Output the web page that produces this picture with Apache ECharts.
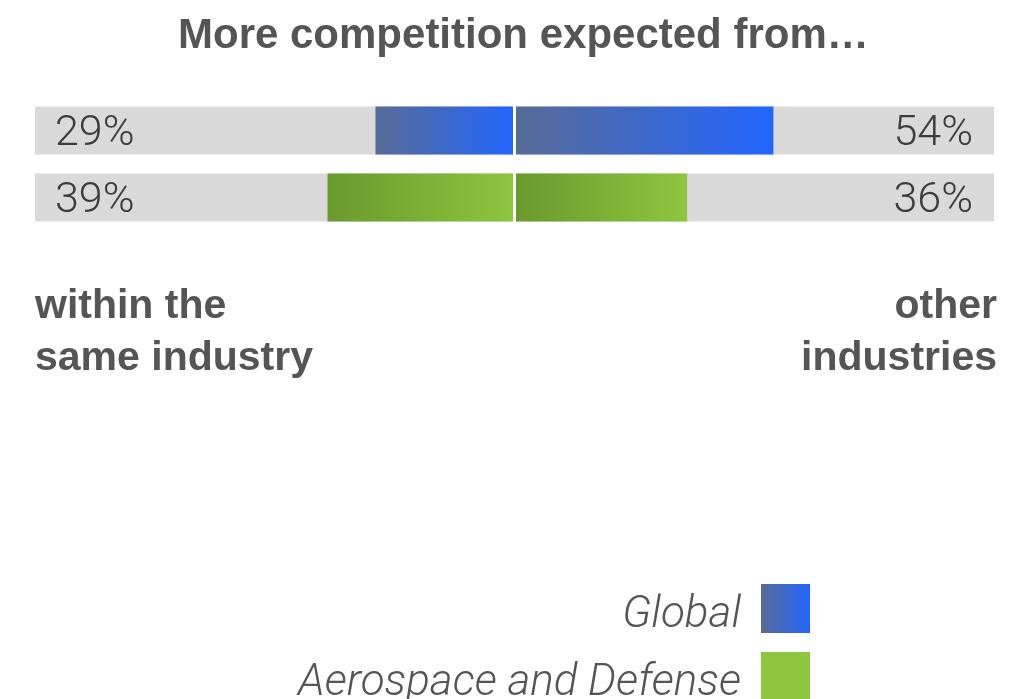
<!DOCTYPE html>
<html>
<head>
<meta charset="utf-8">
<script src="https://cdn.jsdelivr.net/npm/echarts@6/dist/echarts.min.js"></script>
<style>
  html, body { margin: 0; padding: 0; background: #fff; }
  #chart { width: 1034px; height: 699px; }
</style>
</head>
<body>
<div id="chart"></div>
<script>
// data
const rows = ["Global", "Aerospace and Defense"];
const sameIndustry = [29, 39];   // left side, %
const otherIndustries = [54, 36]; // right side, %
const fullScale = [100, 100];
const leftCaption = ["within the", "same industry"];
const rightCaption = ["other", "industries"];

const chart = echarts.init(document.getElementById("chart"));

const blueGrad = new echarts.graphic.LinearGradient(0, 0, 1, 0, [
  { offset: 0, color: "#586b95" },
  { offset: 1, color: "#2266ff" },
]);
const greenGrad = new echarts.graphic.LinearGradient(0, 0, 1, 0, [
  { offset: 0, color: "#6a992d" },
  { offset: 1, color: "#8dc63f" },
]);
const rowColors = [blueGrad, greenGrad];
const swatchColors = [blueGrad, "#8dc63f"];

const boldFont = "'Liberation Sans', Arial, sans-serif";
const lightFont = "Roboto, 'Liberation Sans', sans-serif";

const labelFont = {
  fontFamily: lightFont,
  fontWeight: 300,
  fontSize: 43,
  color: "#3c3c3c",
  offset: [0, 4],
};

// one series per row and side, only the row's own slot has a value
const valueSeries = [];
rows.forEach((name, i) => {
  const left = rows.map((_, j) => (j === i ? -sameIndustry[j] : "-"));
  const right = rows.map((_, j) => (j === i ? otherIndustries[j] : "-"));
  [left, right].forEach((data) => {
    valueSeries.push({
      name: name,
      type: "bar",
      stack: "val",
      barWidth: 48,
      barGap: "-100%",
      silent: true,
      itemStyle: { color: rowColors[i] },
      data: data,
    });
  });
});
// white divider at zero
valueSeries[valueSeries.length - 1].markLine = {
  silent: true,
  symbol: "none",
  label: { show: false },
  lineStyle: { color: "#ffffff", width: 3, type: "solid" },
  data: [{ xAxis: 0 }],
  z: 10,
};

// one legend per row so the stack never wraps at the bottom edge;
// the tall spacer token pushes the name a few px lower than the swatch centre
const legends = rows.map((name, i) => ({
  orient: "vertical",
  right: 219,
  top: 579 + i * 68,
  align: "right",
  icon: "rect",
  itemWidth: 49,
  itemHeight: 49,
  selectedMode: false,
  formatter: "{s| }{t|{name}}",
  textStyle: {
    padding: [0, 15, 0, 0],
    rich: {
      s: { fontSize: 1, lineHeight: 58 },
      t: {
        fontFamily: lightFont,
        fontStyle: "italic",
        fontWeight: 300,
        fontSize: 44,
        lineHeight: 50,
        color: "#555555",
        verticalAlign: "bottom",
      },
    },
  },
  data: [{ name: name, itemStyle: { color: swatchColors[i] } }],
}));

const sideText = {
  fontFamily: boldFont,
  fontWeight: "bold",
  fontSize: 41,
  fill: "#555555",
};
// caption lines, 52px apart
const captions = [];
leftCaption.forEach((line, i) => {
  captions.push({ type: "text", left: 35, top: 286 + i * 52, style: { text: line, ...sideText } });
});
rightCaption.forEach((line, i) => {
  captions.push({ type: "text", right: 37, top: 286 + i * 52, style: { text: line, ...sideText } });
});

const option = {
  animation: false,
  title: {
    text: "More competition expected from…",
    left: 173,
    top: 10,
    textStyle: {
      fontFamily: boldFont,
      fontWeight: "bold",
      fontSize: 42,
      color: "#555555",
    },
  },
  graphic: captions,
  legend: legends,
  grid: { left: 35, right: 40, top: 97, height: 134 },
  xAxis: { type: "value", min: -100, max: 100, show: false },
  yAxis: { type: "category", data: rows, inverse: true, show: false },
  series: [
    {
      name: "bgLeft",
      type: "bar",
      stack: "bg",
      barWidth: 48,
      silent: true,
      itemStyle: { color: "#dadada" },
      label: {
        show: true,
        position: "insideLeft",
        distance: 20,
        formatter: (p) => sameIndustry[p.dataIndex] + "%",
        ...labelFont,
      },
      data: fullScale.map((v) => -v),
    },
    {
      name: "bgRight",
      type: "bar",
      stack: "bg",
      barWidth: 48,
      silent: true,
      itemStyle: { color: "#dadada" },
      label: {
        show: true,
        position: "insideRight",
        distance: 21,
        formatter: (p) => otherIndustries[p.dataIndex] + "%",
        ...labelFont,
      },
      data: fullScale,
    },
    ...valueSeries,
  ],
};

chart.setOption(option);
</script>
</body>
</html>
